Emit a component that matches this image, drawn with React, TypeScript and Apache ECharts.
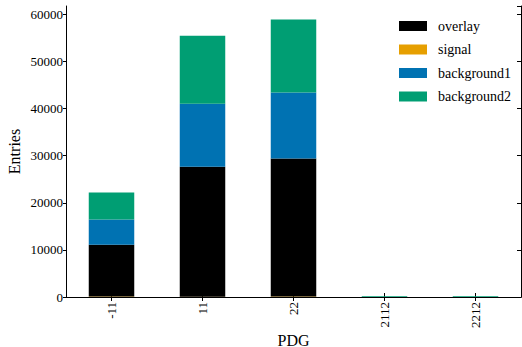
import React, { useEffect, useRef } from "react";
import * as echarts from "echarts";

const categories = ["-11", "11", "22", "2112", "2212"];
const overlay = [11000, 27600, 29300, 0, 0];
const signal = [120, 60, 120, 0, 0];
const background1 = [5350, 13400, 14000, 0, 0];
const background2 = [5700, 14400, 15500, 160, 140];
const yTicks = [0, 10000, 20000, 30000, 40000, 50000, 60000];

const FONT = "'Liberation Serif', 'Times New Roman', Times, 'DejaVu Serif', serif";

export default function App() {
  const ref = useRef<HTMLDivElement>(null);
  useEffect(() => {
    if (!ref.current) return;
    const chart = echarts.init(ref.current, null, { renderer: "svg" });
    const yMax = 61800;
    const axisLine = { show: true, lineStyle: { color: "#000", width: 1 } };
    const mk = (name: string, data: number[], color: string) => ({
      name,
      type: "bar",
      stack: "all",
      data,
      barWidth: "50%",
      itemStyle: { color },
      emphasis: { disabled: true },
    });
    chart.setOption({
      animation: false,
      textStyle: { fontFamily: FONT },
      grid: { left: 66, right: 1, top: 6, bottom: 50, containLabel: false, outerBoundsMode: "none" },
      legend: {
        orient: "vertical",
        left: 399,
        top: 19,
        padding: 0,
        itemWidth: 28,
        itemHeight: 10,
        itemGap: 9.5,
        icon: "rect",
        selectedMode: false,
        textStyle: { fontFamily: FONT, fontSize: 14, color: "#000", padding: [0, 0, 0, 6] },
        data: ["overlay", "signal", "background1", "background2"],
      },
      xAxis: [
        {
          type: "category",
          data: categories,
          position: "bottom",
          name: "PDG",
          nameLocation: "middle",
          nameGap: 35,
          nameMoveOverlap: false,
          nameTextStyle: { fontFamily: FONT, fontSize: 16, color: "#000" },
          axisLine,
          axisTick: { show: true, inside: true, length: 4, alignWithLabel: true, lineStyle: { color: "#000" } },
          axisLabel: { rotate: 90, margin: 5, fontFamily: FONT, fontSize: 13, color: "#000" },
          splitLine: { show: false },
        },
        {
          type: "category",
          data: categories,
          position: "top",
          axisLine,
          axisTick: { show: true, inside: true, length: 4, alignWithLabel: true, lineStyle: { color: "#000" } },
          axisLabel: { show: false },
          splitLine: { show: false },
        },
      ],
      yAxis: [
        {
          type: "value",
          position: "left",
          min: 0,
          max: yMax,
          interval: 10000,
          name: "Entries",
          nameLocation: "middle",
          nameGap: 44,
          nameMoveOverlap: false,
          nameTextStyle: { fontFamily: FONT, fontSize: 16, color: "#000" },
          axisLine,
          axisTick: { show: true, inside: false, length: 3, lineStyle: { color: "#000" } },
          axisLabel: {
            margin: 3,
            fontFamily: FONT,
            fontSize: 13,
            color: "#000",
            showMaxLabel: false,
            formatter: (v: number) => (yTicks.includes(v) ? String(v) : ""),
          },
          splitLine: { show: false },
        },
        {
          type: "value",
          position: "right",
          min: 0,
          max: yMax,
          interval: 10000,
          axisLine,
          axisTick: { show: true, inside: true, length: 4, lineStyle: { color: "#000" } },
          axisLabel: { show: false },
          splitLine: { show: false },
        },
      ],
      series: [
        mk("signal", signal, "#E69F00"),
        mk("overlay", overlay, "#000000"),
        mk("background1", background1, "#0072B2"),
        mk("background2", background2, "#009E73"),
      ],
    });
    return () => chart.dispose();
  }, []);
  return <div ref={ref} style={{ width: 522, height: 347, position: "absolute", left: 0, top: 0 }} />;
}
